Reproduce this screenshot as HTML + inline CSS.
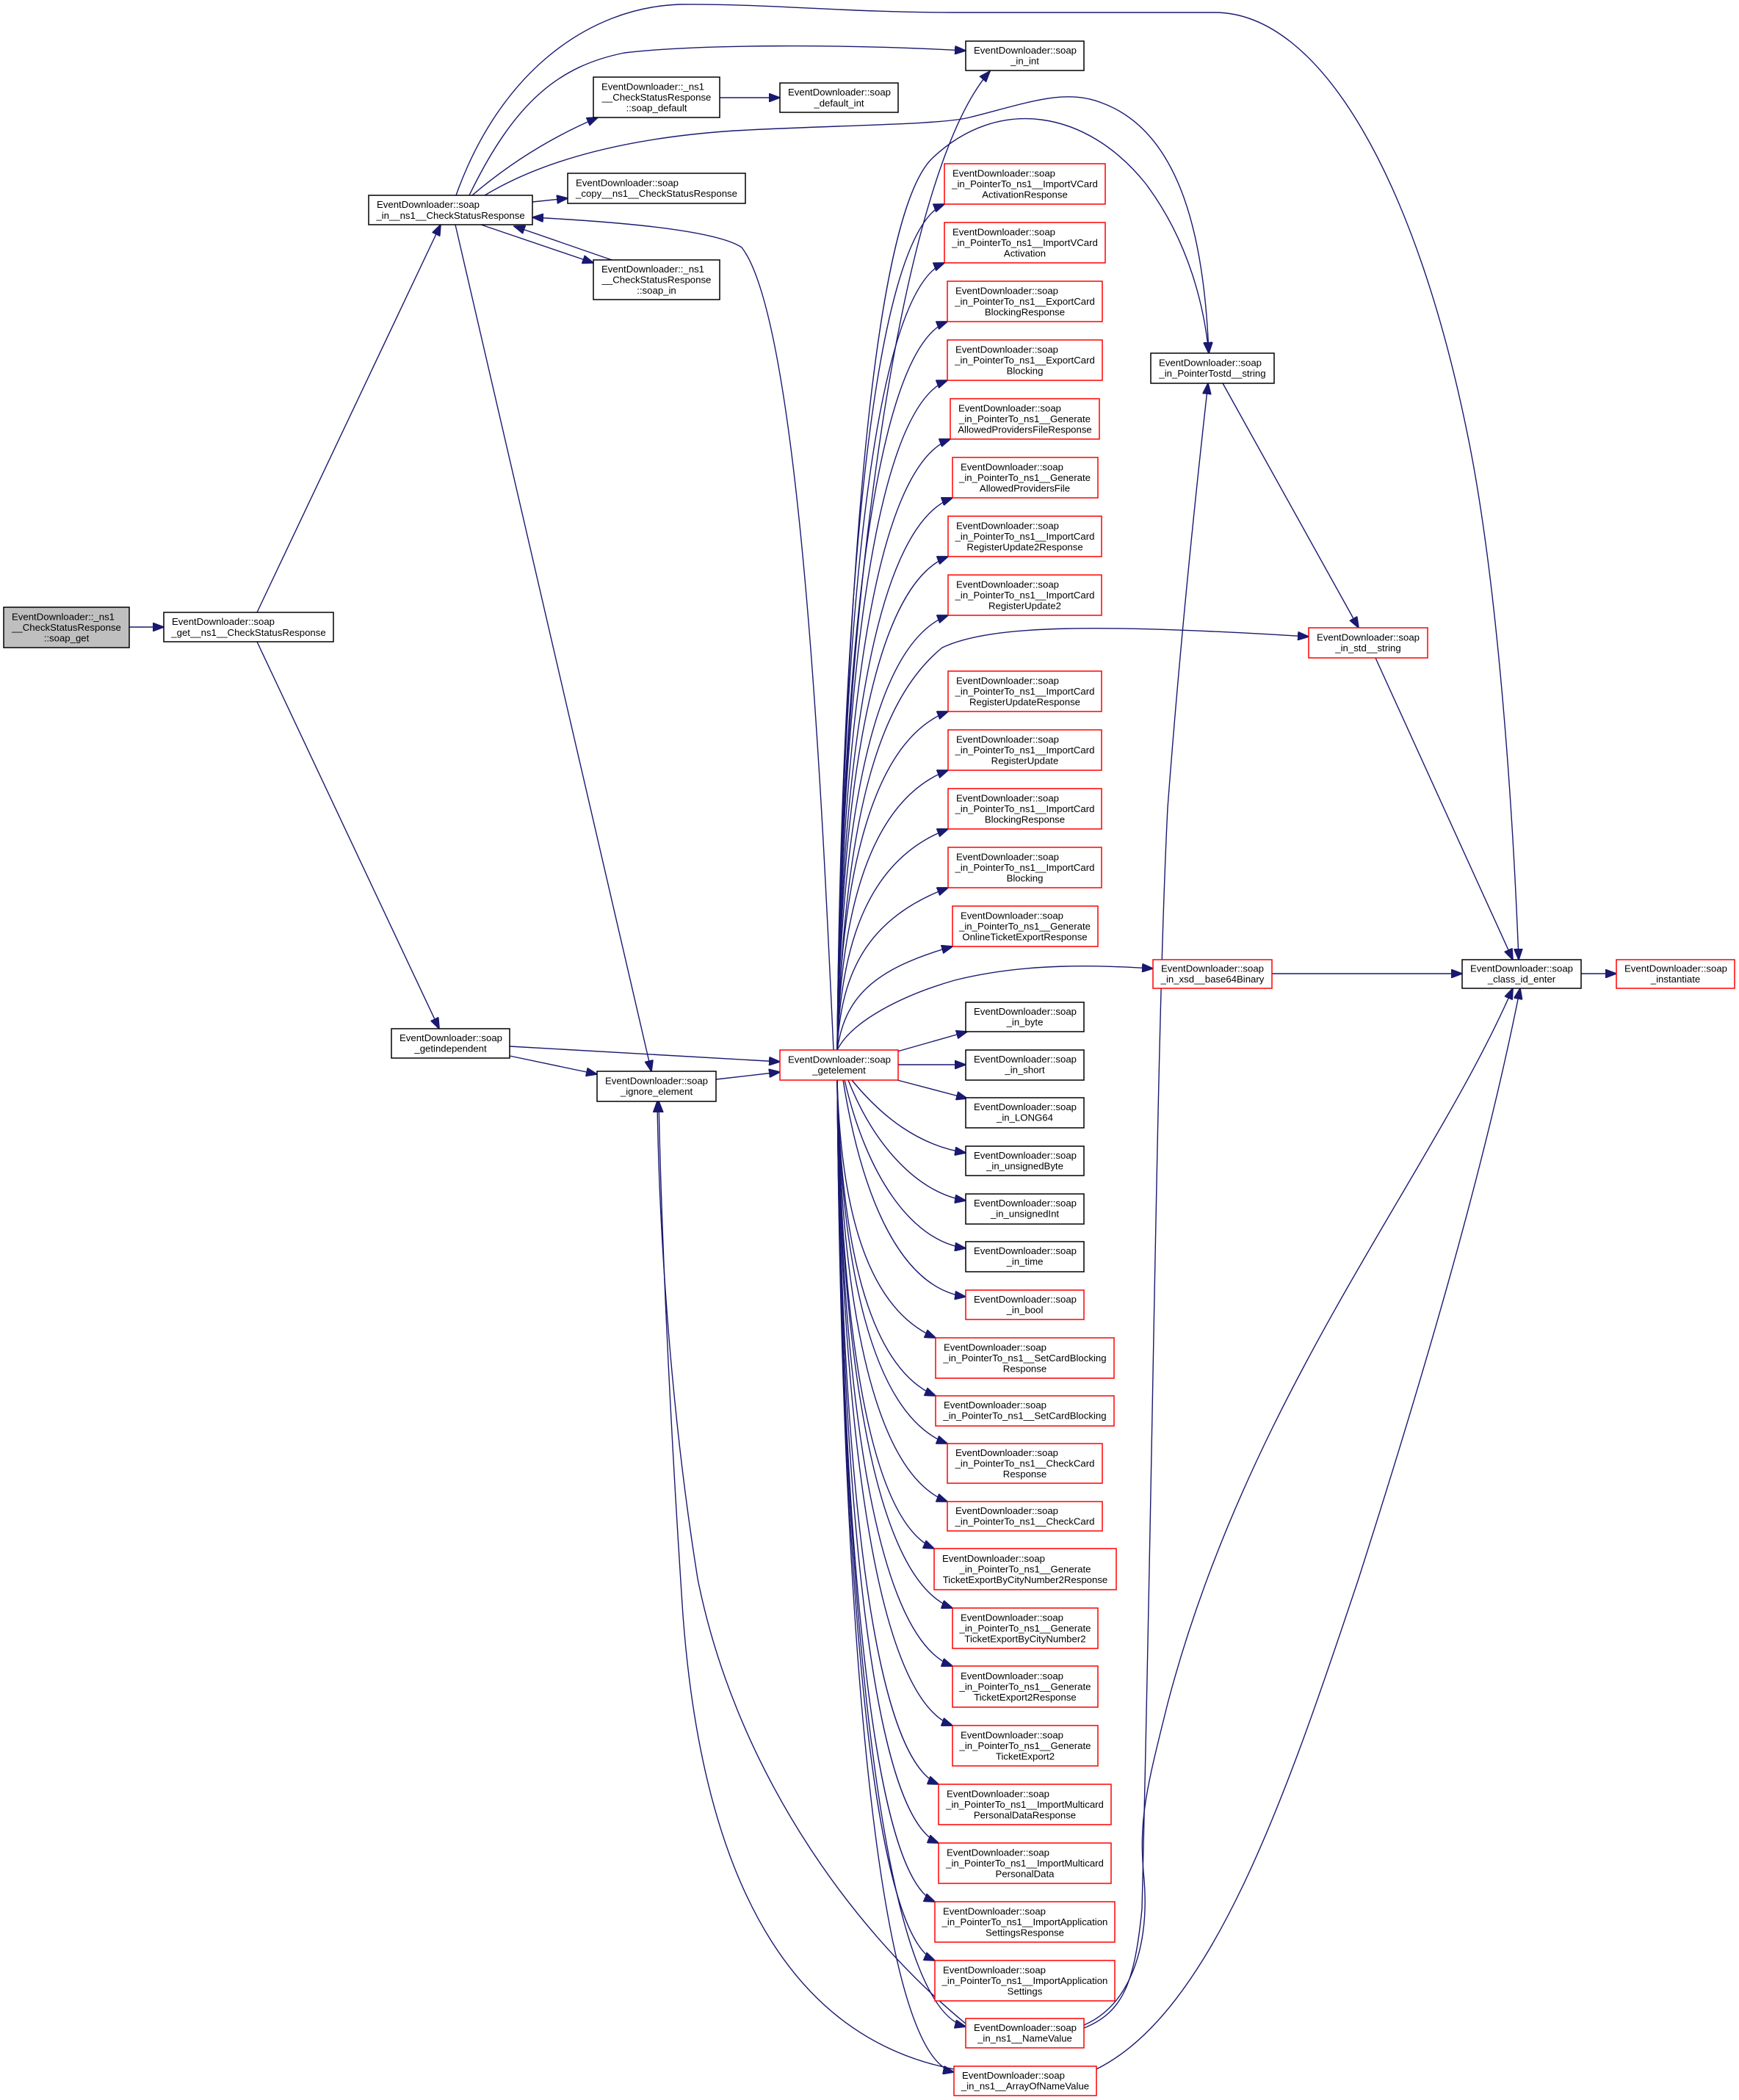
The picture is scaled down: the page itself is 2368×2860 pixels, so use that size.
<!DOCTYPE html>
<html><head><meta charset="utf-8"><style>
html,body{margin:0;padding:0;background:#fff;}
svg{display:block;}
text{font-family:"Liberation Sans",Arial,sans-serif;font-size:13.2px;fill:#000;}
.m{text-anchor:middle;}
.b{fill:#fff;stroke:#000;stroke-width:1.5;}
.r{fill:#fff;stroke:#ff0000;stroke-width:1.5;}
.g{fill:#bfbfbf;stroke:#000;stroke-width:1.5;}
.e{fill:none;stroke:#191970;stroke-width:1.4;marker-end:url(#a);}
</style></head><body>
<svg width="2368" height="2860" viewBox="0 0 2368 2860" xmlns="http://www.w3.org/2000/svg">
<defs><marker id="a" markerWidth="16" markerHeight="12" refX="15" refY="6" orient="auto" markerUnits="userSpaceOnUse"><path d="M0,0 L16,6 L0,12 z" fill="#191970" stroke="#191970"/></marker></defs>

<!-- edges -->
<path class="e" d="M176 854 L223 854"/>
<path class="e" d="M350 834 L600 306"/>
<path class="e" d="M350 874 L598 1401"/>
<path class="e" d="M694 1425 L1062 1446"/>
<path class="e" d="M694 1438 L813 1463"/>
<path class="e" d="M975 1470 L1062 1460"/>
<path class="e" d="M620 306 L887 1459"/>
<path class="e" d="M621 266 C680 100 800 10 926 6 C1050 5 1150 17 1300 17 L1654 17 C1800 17 1930 250 2000 600 C2040 800 2060 1100 2068 1307"/>
<path class="e" d="M639 266 C700 140 760 90 850 72 C950 60 1150 60 1315 69"/>
<path class="e" d="M643 266 Q720 200 814 160"/>
<path class="e" d="M660 266 C720 230 820 190 1000 178 C1150 170 1280 170 1320 160 C1400 140 1450 120 1500 140 C1610 180 1640 330 1646 481"/>
<path class="e" d="M725 275 L773 270"/>
<path class="e" d="M655 306 L808 358"/>
<path class="e" d="M833 354 L700 308"/>
<path class="e" d="M980 133 L1062 133"/>
<path class="e" d="M1665 522 L1850 855"/>
<path class="e" d="M1873 896 L2060 1307"/>
<path class="e" d="M1732 1326 L1991 1326"/>
<path class="e" d="M2153 1326 L2201 1326"/>
<path class="e" d="M1476 2762 C1530 2740 1545 2700 1555 2600 C1570 2000 1575 1400 1590 1100 C1605 900 1625 700 1645 522"/>
<path class="e" d="M1476 2758 C1540 2730 1565 2650 1558 2560 C1550 2480 1560 2440 1590 2320 C1700 1900 1950 1600 2060 1346"/>
<path class="e" d="M1493 2818 C1650 2740 1750 2450 1850 2150 C1930 1900 2020 1600 2070 1346"/>
<path class="e" d="M1315 2756 C1150 2620 1000 2400 950 2150 C910 1900 897 1650 895 1500"/>
<path class="e" d="M1299 2818 C1100 2780 960 2600 930 2200 C910 1900 900 1650 897 1500"/>

<!-- getelement fan up -->
<path class="e" d="M1140 1430 C1145 800 1230 230 1348 97"/>
<path class="e" d="M1140 1430 C1148 900 1180 300 1270 215 C1360 130 1480 150 1560 250 C1620 330 1640 420 1646 481"/>
<path class="e" d="M1135 1430 C1120 1100 1090 440 1010 337 C970 310 800 300 725 296"/>
<path class="e" d="M1140 1430 C1150 1100 1200 950 1283 882 C1350 850 1500 850 1782 867"/>
<path class="e" d="M1140 1430 C1160 1390 1230 1355 1300 1335 C1400 1310 1500 1315 1570 1319"/>
<path class="e" d="M1140 1430 C1145 854 1184 318 1286 278"/>
<path class="e" d="M1140 1430 C1145 894 1184 398 1286 358"/>
<path class="e" d="M1140 1430 C1145 934 1185 478 1290 438"/>
<path class="e" d="M1140 1430 C1145 974 1185 558 1290 518"/>
<path class="e" d="M1140 1430 C1145 1014 1186 638 1294 598"/>
<path class="e" d="M1140 1430 C1145 1054 1187 718 1297 678"/>
<path class="e" d="M1140 1430 C1145 1094 1185 798 1291 758"/>
<path class="e" d="M1140 1430 C1145 1134 1185 878 1291 838"/>
<path class="e" d="M1140 1430 C1145 1200 1185 1009 1291 969"/>
<path class="e" d="M1140 1430 C1145 1240 1185 1089 1291 1049"/>
<path class="e" d="M1140 1430 C1145 1280 1185 1169 1291 1129"/>
<path class="e" d="M1140 1430 C1145 1320 1185 1249 1291 1209"/>
<path class="e" d="M1140 1430 C1150 1360 1187 1320 1297 1289"/>
<!-- right -->
<path class="e" d="M1222 1432 L1317 1405"/>
<path class="e" d="M1223 1450 L1315 1450"/>
<path class="e" d="M1222 1471 L1317 1496"/>
<!-- fan down -->
<path class="e" d="M1160 1471 C1200 1520 1250 1560 1315 1570"/>
<path class="e" d="M1155 1471 C1190 1560 1250 1625 1315 1635"/>
<path class="e" d="M1150 1471 C1180 1600 1240 1690 1315 1700"/>
<path class="e" d="M1148 1471 C1175 1640 1230 1755 1315 1766"/>
<path class="e" d="M1140 1471 C1145 1646 1180 1782 1274 1822"/>
<path class="e" d="M1140 1471 C1145 1686 1180 1861 1274 1901"/>
<path class="e" d="M1140 1471 C1145 1718 1185 1926 1290 1966"/>
<path class="e" d="M1140 1471 C1145 1758 1185 2005 1290 2045"/>
<path class="e" d="M1140 1471 C1145 1790 1180 2069 1272 2109"/>
<path class="e" d="M1140 1471 C1145 1830 1187 2150 1297 2190"/>
<path class="e" d="M1140 1471 C1145 1870 1187 2229 1297 2269"/>
<path class="e" d="M1140 1471 C1145 1910 1187 2310 1297 2350"/>
<path class="e" d="M1140 1471 C1145 1950 1181 2390 1278 2430"/>
<path class="e" d="M1140 1471 C1145 1990 1181 2470 1278 2510"/>
<path class="e" d="M1140 1471 C1145 2030 1180 2550 1273 2590"/>
<path class="e" d="M1140 1471 C1145 2070 1180 2630 1273 2670"/>
<path class="e" d="M1140 1471 C1145 2115 1192 2730 1315 2760"/>
<path class="e" d="M1140 1471 C1145 2146 1188 2800 1299 2822"/>

<!-- nodes -->
<rect class="g" x="5" y="827" width="171" height="55"/>
<text x="16" y="844.5">EventDownloader::_ns1</text><text class="m" x="90.5" y="859">__CheckStatusResponse</text><text class="m" x="90.5" y="873.5">::soap_get</text>

<rect class="b" x="223" y="834" width="231" height="40"/>
<text x="234" y="851">EventDownloader::soap</text><text class="m" x="338.5" y="866">_get__ns1__CheckStatusResponse</text>

<rect class="b" x="502" y="266" width="223" height="40"/>
<text x="513" y="283">EventDownloader::soap</text><text class="m" x="613.5" y="298">_in__ns1__CheckStatusResponse</text>

<rect class="b" x="808" y="105" width="172" height="55"/>
<text x="819" y="122.5">EventDownloader::_ns1</text><text class="m" x="894" y="137">__CheckStatusResponse</text><text class="m" x="894" y="151.5">::soap_default</text>

<rect class="b" x="1062" y="113" width="161" height="40"/>
<text x="1073" y="130">EventDownloader::soap</text><text class="m" x="1142.5" y="145">_default_int</text>

<rect class="b" x="773" y="236" width="242" height="41"/>
<text x="784" y="253.5">EventDownloader::soap</text><text class="m" x="894" y="268">_copy__ns1__CheckStatusResponse</text>

<rect class="b" x="808" y="354" width="172" height="54"/>
<text x="819" y="371">EventDownloader::_ns1</text><text class="m" x="894" y="385.5">__CheckStatusResponse</text><text class="m" x="894" y="400">::soap_in</text>

<rect class="b" x="1315" y="56" width="161" height="40"/>
<text x="1326" y="73">EventDownloader::soap</text><text class="m" x="1395.5" y="87.5">_in_int</text>

<rect class="b" x="533" y="1401" width="161" height="40"/>
<text x="544" y="1418">EventDownloader::soap</text><text class="m" x="613.5" y="1432.5">_getindependent</text>

<rect class="b" x="813" y="1459" width="162" height="41"/>
<text x="824" y="1476.5">EventDownloader::soap</text><text class="m" x="894" y="1491">_ignore_element</text>

<rect class="r" x="1062" y="1430" width="161" height="41"/>
<text x="1073" y="1447.5">EventDownloader::soap</text><text class="m" x="1142.5" y="1462">_getelement</text>

<rect class="b" x="1567" y="481" width="168" height="41"/>
<text x="1578" y="498.5">EventDownloader::soap</text><text class="m" x="1651" y="513">_in_PointerTostd__string</text>

<rect class="r" x="1782" y="855" width="162" height="41"/>
<text x="1793" y="872.5">EventDownloader::soap</text><text class="m" x="1863" y="887">_in_std__string</text>

<rect class="r" x="1570" y="1307" width="162" height="39"/>
<text x="1581" y="1323.5">EventDownloader::soap</text><text class="m" x="1651" y="1338">_in_xsd__base64Binary</text>

<rect class="b" x="1991" y="1307" width="162" height="39"/>
<text x="2002" y="1323.5">EventDownloader::soap</text><text class="m" x="2072" y="1338">_class_id_enter</text>

<rect class="r" x="2201" y="1307" width="161" height="39"/>
<text x="2212" y="1323.5">EventDownloader::soap</text><text class="m" x="2281.5" y="1338">_instantiate</text>

<!-- red column -->
<rect class="r" x="1286" y="223" width="219" height="55"/>
<text x="1297" y="240.5">EventDownloader::soap</text><text class="m" x="1395.5" y="255">_in_PointerTo_ns1__ImportVCard</text><text class="m" x="1395.5" y="269.5">ActivationResponse</text>
<rect class="r" x="1286" y="303" width="219" height="55"/>
<text x="1297" y="320.5">EventDownloader::soap</text><text class="m" x="1395.5" y="335">_in_PointerTo_ns1__ImportVCard</text><text class="m" x="1395.5" y="349.5">Activation</text>
<rect class="r" x="1290" y="383" width="211" height="55"/>
<text x="1301" y="400.5">EventDownloader::soap</text><text class="m" x="1395.5" y="415">_in_PointerTo_ns1__ExportCard</text><text class="m" x="1395.5" y="429.5">BlockingResponse</text>
<rect class="r" x="1290" y="463" width="211" height="55"/>
<text x="1301" y="480.5">EventDownloader::soap</text><text class="m" x="1395.5" y="495">_in_PointerTo_ns1__ExportCard</text><text class="m" x="1395.5" y="509.5">Blocking</text>
<rect class="r" x="1294" y="543" width="203" height="55"/>
<text x="1305" y="560.5">EventDownloader::soap</text><text class="m" x="1395.5" y="575">_in_PointerTo_ns1__Generate</text><text class="m" x="1395.5" y="589.5">AllowedProvidersFileResponse</text>
<rect class="r" x="1297" y="623" width="198" height="55"/>
<text x="1308" y="640.5">EventDownloader::soap</text><text class="m" x="1395.5" y="655">_in_PointerTo_ns1__Generate</text><text class="m" x="1395.5" y="669.5">AllowedProvidersFile</text>
<rect class="r" x="1291" y="703" width="209" height="55"/>
<text x="1302" y="720.5">EventDownloader::soap</text><text class="m" x="1395.5" y="735">_in_PointerTo_ns1__ImportCard</text><text class="m" x="1395.5" y="749.5">RegisterUpdate2Response</text>
<rect class="r" x="1291" y="783" width="209" height="55"/>
<text x="1302" y="800.5">EventDownloader::soap</text><text class="m" x="1395.5" y="815">_in_PointerTo_ns1__ImportCard</text><text class="m" x="1395.5" y="829.5">RegisterUpdate2</text>
<rect class="r" x="1291" y="914" width="209" height="55"/>
<text x="1302" y="931.5">EventDownloader::soap</text><text class="m" x="1395.5" y="946">_in_PointerTo_ns1__ImportCard</text><text class="m" x="1395.5" y="960.5">RegisterUpdateResponse</text>
<rect class="r" x="1291" y="994" width="209" height="55"/>
<text x="1302" y="1011.5">EventDownloader::soap</text><text class="m" x="1395.5" y="1026">_in_PointerTo_ns1__ImportCard</text><text class="m" x="1395.5" y="1040.5">RegisterUpdate</text>
<rect class="r" x="1291" y="1074" width="209" height="55"/>
<text x="1302" y="1091.5">EventDownloader::soap</text><text class="m" x="1395.5" y="1106">_in_PointerTo_ns1__ImportCard</text><text class="m" x="1395.5" y="1120.5">BlockingResponse</text>
<rect class="r" x="1291" y="1154" width="209" height="55"/>
<text x="1302" y="1171.5">EventDownloader::soap</text><text class="m" x="1395.5" y="1186">_in_PointerTo_ns1__ImportCard</text><text class="m" x="1395.5" y="1200.5">Blocking</text>
<rect class="r" x="1297" y="1234" width="198" height="55"/>
<text x="1308" y="1251.5">EventDownloader::soap</text><text class="m" x="1395.5" y="1266">_in_PointerTo_ns1__Generate</text><text class="m" x="1395.5" y="1280.5">OnlineTicketExportResponse</text>

<rect class="b" x="1315" y="1365" width="161" height="40"/>
<text x="1326" y="1382">EventDownloader::soap</text><text class="m" x="1395.5" y="1396.5">_in_byte</text>
<rect class="b" x="1315" y="1430" width="161" height="41"/>
<text x="1326" y="1447">EventDownloader::soap</text><text class="m" x="1395.5" y="1461.5">_in_short</text>
<rect class="b" x="1315" y="1495" width="161" height="41"/>
<text x="1326" y="1512">EventDownloader::soap</text><text class="m" x="1395.5" y="1526.5">_in_LONG64</text>
<rect class="b" x="1315" y="1561" width="161" height="40"/>
<text x="1326" y="1578">EventDownloader::soap</text><text class="m" x="1395.5" y="1592.5">_in_unsignedByte</text>
<rect class="b" x="1315" y="1626" width="161" height="41"/>
<text x="1326" y="1643">EventDownloader::soap</text><text class="m" x="1395.5" y="1657.5">_in_unsignedInt</text>
<rect class="b" x="1315" y="1691" width="161" height="41"/>
<text x="1326" y="1708">EventDownloader::soap</text><text class="m" x="1395.5" y="1722.5">_in_time</text>
<rect class="r" x="1315" y="1757" width="161" height="40"/>
<text x="1326" y="1774">EventDownloader::soap</text><text class="m" x="1395.5" y="1788.5">_in_bool</text>

<rect class="r" x="1274" y="1822" width="243" height="55"/>
<text x="1285" y="1839.5">EventDownloader::soap</text><text class="m" x="1395.5" y="1854">_in_PointerTo_ns1__SetCardBlocking</text><text class="m" x="1395.5" y="1868.5">Response</text>
<rect class="r" x="1274" y="1901" width="243" height="41"/>
<text x="1285" y="1918">EventDownloader::soap</text><text class="m" x="1395.5" y="1932.5">_in_PointerTo_ns1__SetCardBlocking</text>
<rect class="r" x="1290" y="1966" width="211" height="54"/>
<text x="1301" y="1983">EventDownloader::soap</text><text class="m" x="1395.5" y="1997.5">_in_PointerTo_ns1__CheckCard</text><text class="m" x="1395.5" y="2012">Response</text>
<rect class="r" x="1290" y="2045" width="211" height="40"/>
<text x="1301" y="2062">EventDownloader::soap</text><text class="m" x="1395.5" y="2076.5">_in_PointerTo_ns1__CheckCard</text>
<rect class="r" x="1272" y="2109" width="248" height="56"/>
<text x="1283" y="2127">EventDownloader::soap</text><text class="m" x="1396" y="2141.5">_in_PointerTo_ns1__Generate</text><text class="m" x="1396" y="2156">TicketExportByCityNumber2Response</text>
<rect class="r" x="1297" y="2190" width="198" height="55"/>
<text x="1308" y="2207.5">EventDownloader::soap</text><text class="m" x="1396" y="2222">_in_PointerTo_ns1__Generate</text><text class="m" x="1396" y="2236.5">TicketExportByCityNumber2</text>
<rect class="r" x="1297" y="2269" width="198" height="56"/>
<text x="1308" y="2287">EventDownloader::soap</text><text class="m" x="1396" y="2301.5">_in_PointerTo_ns1__Generate</text><text class="m" x="1396" y="2316">TicketExport2Response</text>
<rect class="r" x="1297" y="2350" width="198" height="55"/>
<text x="1308" y="2367.5">EventDownloader::soap</text><text class="m" x="1396" y="2382">_in_PointerTo_ns1__Generate</text><text class="m" x="1396" y="2396.5">TicketExport2</text>
<rect class="r" x="1278" y="2430" width="235" height="55"/>
<text x="1289" y="2447.5">EventDownloader::soap</text><text class="m" x="1395.5" y="2462">_in_PointerTo_ns1__ImportMulticard</text><text class="m" x="1395.5" y="2476.5">PersonalDataResponse</text>
<rect class="r" x="1278" y="2510" width="235" height="55"/>
<text x="1289" y="2527.5">EventDownloader::soap</text><text class="m" x="1395.5" y="2542">_in_PointerTo_ns1__ImportMulticard</text><text class="m" x="1395.5" y="2556.5">PersonalData</text>
<rect class="r" x="1273" y="2590" width="245" height="55"/>
<text x="1284" y="2607.5">EventDownloader::soap</text><text class="m" x="1395.5" y="2622">_in_PointerTo_ns1__ImportApplication</text><text class="m" x="1395.5" y="2636.5">SettingsResponse</text>
<rect class="r" x="1273" y="2670" width="245" height="55"/>
<text x="1284" y="2687.5">EventDownloader::soap</text><text class="m" x="1395.5" y="2702">_in_PointerTo_ns1__ImportApplication</text><text class="m" x="1395.5" y="2716.5">Settings</text>
<rect class="r" x="1315" y="2749" width="161" height="40"/>
<text x="1326" y="2766">EventDownloader::soap</text><text class="m" x="1395.5" y="2780.5">_in_ns1__NameValue</text>
<rect class="r" x="1299" y="2814" width="194" height="40"/>
<text x="1310" y="2831">EventDownloader::soap</text><text class="m" x="1396" y="2845.5">_in_ns1__ArrayOfNameValue</text>
</svg>
</body></html>
